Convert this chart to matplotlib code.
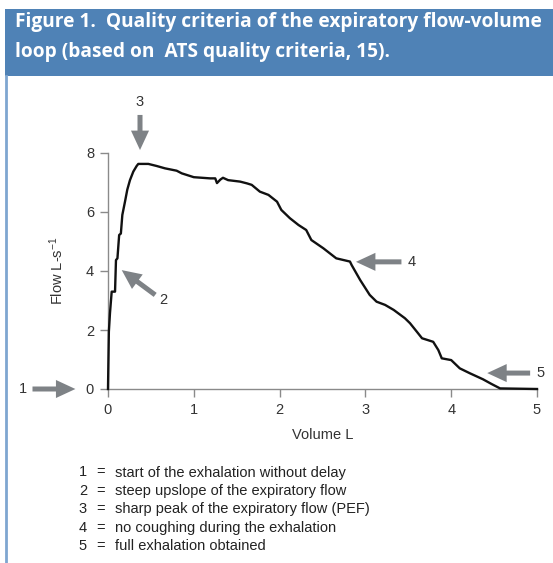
import numpy as np
import matplotlib
matplotlib.use("Agg")
import matplotlib.pyplot as plt
from matplotlib.patches import Rectangle
from matplotlib.lines import Line2D

# flow-volume curve
volume = [0, 0.01, 0.023, 0.043, 0.082, 0.093, 0.11, 0.13, 0.15, 0.167, 0.198,
          0.225, 0.256, 0.295, 0.334, 0.353, 0.47, 0.567, 0.664, 0.80, 0.86,
          1.0, 1.19, 1.25, 1.27, 1.31, 1.34, 1.40, 1.54, 1.62, 1.675, 1.77,
          1.87, 1.97, 2.02, 2.12, 2.22, 2.31, 2.37, 2.51, 2.66, 2.82, 2.84,
          2.94, 3.05, 3.13, 3.23, 3.33, 3.46, 3.52, 3.60, 3.66, 3.79, 3.85,
          3.89, 4.0, 4.10, 4.22, 4.37, 4.47, 4.57, 5.0]
flow = [0, 1.94, 2.57, 3.3, 3.3, 4.37, 4.43, 5.22, 5.27, 5.9, 6.35,
        6.76, 7.08, 7.37, 7.56, 7.63, 7.63, 7.56, 7.48, 7.40, 7.31,
        7.18, 7.14, 7.14, 6.98, 7.10, 7.16, 7.08, 7.03, 6.97, 6.92, 6.69,
        6.58, 6.35, 6.07, 5.79, 5.56, 5.39, 5.05, 4.77, 4.43, 4.32, 4.2,
        3.69, 3.19, 2.96, 2.85, 2.68, 2.4, 2.23, 1.94, 1.72, 1.6, 1.32,
        1.04, 0.98, 0.70, 0.53, 0.33, 0.17, 0.02, 0]

xticks = [0, 1, 2, 3, 4, 5]
yticks = [0, 2, 4, 6, 8]

# arrows: (label, tail, tip, label position) in data units
arrows = [
    ("1", (-0.88, 0.0), (-0.38, 0.0), (-0.99, 0.0)),
    ("2", (0.55, 3.19), (0.16, 4.03), (0.64, 3.02)),
    ("3", (0.373, 9.29), (0.373, 8.1), (0.373, 9.72)),
    ("4", (3.42, 4.31), (2.89, 4.31), (3.54, 4.31)),
    ("5", (4.92, 0.54), (4.42, 0.54), (5.04, 0.54)),
]

notes = [
    ("1", "start of the exhalation without delay"),
    ("2", "steep upslope of the expiratory flow"),
    ("3", "sharp peak of the expiratory flow (PEF)"),
    ("4", "no coughing during the exhalation"),
    ("5", "full exhalation obtained"),
]

W, H = 553, 563
plt.rcParams["font.family"] = ["Liberation Sans", "DejaVu Sans"]
plt.rcParams["mathtext.default"] = "regular"

fig = plt.figure(figsize=(W / 100, H / 100), dpi=100)

# header band and left border
fig.patches.append(Rectangle((5 / W, 1 - 76 / H), 1 - 5 / W, 67 / H,
                             transform=fig.transFigure, facecolor="#4f82b6",
                             edgecolor="none"))
fig.lines.append(Line2D([6 / W, 6 / W], [0, 1 - 76 / H], transform=fig.transFigure,
                        color="#7fa6d0", lw=2))
fig.text(15 / W, 1 - 27 / H, "Figure 1.  Quality criteria of the expiratory flow-volume",
         color="white", fontsize=13.8, fontweight="bold", family="Open Sans", va="baseline")
fig.text(15 / W, 1 - 57 / H, "loop (based on  ATS quality criteria, 15).",
         color="white", fontsize=13.8, fontweight="bold", family="Open Sans", va="baseline")

ax = fig.add_axes([108 / W, 1 - 389 / H, 429 / W, 236 / H])
ax.plot(volume, flow, color="#111111", lw=1.7, clip_on=False, zorder=3)
ax.set_xlim(0, 5)
ax.set_ylim(0, 8)
ax.set_xticks(xticks)
ax.set_yticks(yticks)
for s in ["top", "right"]:
    ax.spines[s].set_visible(False)
for s in ["left", "bottom"]:
    ax.spines[s].set_color("#8a8a8a")
    ax.spines[s].set_linewidth(1)
ax.tick_params(direction="out", length=6, width=1, color="#8a8a8a",
               labelsize=10.5, labelcolor="#333333", pad=4)
ax.set_xlabel("Volume L", fontsize=10.5, color="#333333", labelpad=8)
ax.set_ylabel("Flow L-s$^{-1}$", fontsize=10.5, color="#333333", labelpad=14)

for lab, tail, tip, pos in arrows:
    ax.annotate("", xy=tip, xytext=tail, annotation_clip=False,
                arrowprops=dict(width=3.6, headwidth=13, headlength=14,
                                facecolor="#7e8286", edgecolor="none", shrink=0))
    ax.text(pos[0], pos[1], lab, ha="center", va="center", fontsize=10.5,
            color="#333333", clip_on=False)

for i, (num, txt) in enumerate(notes):
    y = 1 - (476.5 + i * 18.4) / H
    fig.text(83 / W, y, num, fontsize=10.5, color="#222222", ha="center", va="baseline")
    fig.text(101 / W, y, "=", fontsize=10.5, color="#222222", ha="center", va="baseline")
    fig.text(115 / W, y, txt, fontsize=10.5, color="#222222", va="baseline")

fig.savefig("out.png", dpi=100)
